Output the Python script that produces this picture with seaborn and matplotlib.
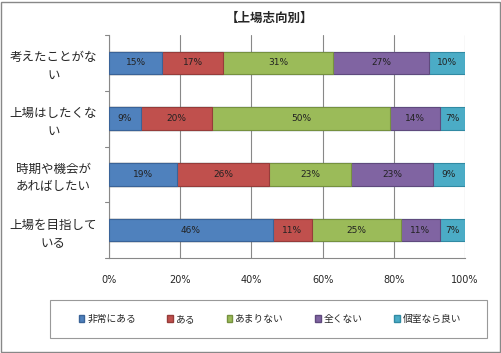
import matplotlib
matplotlib.use("Agg")
import matplotlib.pyplot as plt
import seaborn as sns
import numpy as np
import pandas as pd
from matplotlib.patches import Rectangle

sns.set_style("white")
plt.rcParams['font.family'] = ['Noto Sans CJK JP', 'DejaVu Sans']

categories = ["考えたことがな\nい", "上場はしたくな\nい", "時期や機会が\nあればしたい", "上場を目指して\nいる"]
series_names = ["非常にある", "ある", "あまりない", "全くない", "個室なら良い"]
v_very = [15, 9, 19, 46]
v_some = [17, 20, 26, 11]
v_little = [31, 50, 23, 25]
v_none = [27, 14, 23, 11]
v_private = [10, 7, 9, 7]
colors = ["#4F81BD", "#C0504D", "#9BBB59", "#8064A2", "#4BACC6"]
edges = ["#3A6398", "#963C3A", "#76913F", "#5F4A7D", "#318AA3"]
xticks = [0, 20, 40, 60, 80, 100]
xticklabels = ["0%", "20%", "40%", "60%", "80%", "100%"]

series = [v_very, v_some, v_little, v_none, v_private]
vals = np.array(series, dtype=float)
totals = vals.sum(axis=0)
pct = vals / totals * 100
cum = np.cumsum(pct, axis=0)

fig = plt.figure(figsize=(5.01, 3.53), dpi=100)
ax = fig.add_axes([109/501, 1-258/353, (465-109)/501, (258-35)/353])

for i in range(len(series) - 1, -1, -1):
    df = pd.DataFrame({"cat": categories, "val": cum[i]})
    sns.barplot(data=df, x="val", y="cat", orient="h", color=colors[i],
                saturation=1, width=0.4, edgecolor=edges[i], linewidth=0.8, ax=ax,
                label=series_names[i], zorder=3)

for i in range(len(series)):
    starts = cum[i] - pct[i]
    for j in range(len(categories)):
        ax.text(starts[j] + pct[i][j] / 2, j, f"{series[i][j]}%", ha="center",
                va="center", fontsize=6.5, color="#222222", zorder=5,
                family=['DejaVu Sans'])

ax.set_xlim(0, 100)
ax.set_ylim(3.5, -0.5)
ax.set_xticks(xticks)
ax.set_xticklabels(xticklabels, fontsize=7, family=['DejaVu Sans'])
ax.set_yticks([0, 1, 2, 3])
ax.set_yticklabels(categories, fontsize=9, ha="center", linespacing=1.45)
ax.tick_params(axis="y", length=0, pad=40)
ax.tick_params(axis="x", length=4, color="#888888", direction="out", pad=8)
ax.set_xlabel("")
ax.set_ylabel("")
for b in [-0.5, 0.5, 1.5, 2.5, 3.5]:
    ax.plot([-0.012, 0], [b, b], transform=ax.get_yaxis_transform(), color="#888888",
            lw=0.8, clip_on=False)
ax.grid(axis="x", color="#888888", lw=0.8, zorder=0)
ax.set_axisbelow(True)
for s in ["top", "right"]:
    ax.spines[s].set_visible(False)
ax.spines["left"].set_color("#888888")
ax.spines["bottom"].set_color("#888888")
ax.spines["left"].set_linewidth(0.8)
ax.spines["bottom"].set_linewidth(0.8)

leg = ax.get_legend()
if leg is not None:
    leg.remove()
handles = [Rectangle((0, 0), 1, 1, facecolor=colors[i], edgecolor=edges[i]) for i in range(5)]
fig.legend(handles, series_names, loc="center", bbox_to_anchor=(270/501, 1-319/353),
           ncol=5, fontsize=7, frameon=False,
           handlelength=0.6, handleheight=0.6, handletextpad=0.3, columnspacing=3.2)
fig.add_artist(Rectangle((50/501, 1-338/353), 437/501, 38/353, transform=fig.transFigure,
                         fill=False, edgecolor="#999999", lw=0.8))

fig.text(270/501, 1-18/353, "【上場志向別】", ha="center", va="center",
         fontsize=9, fontweight="bold")

fig.add_artist(Rectangle((1/501, 1/353), 499/501, 350/353, transform=fig.transFigure,
                         fill=False, edgecolor="#888888", lw=1))

fig.savefig("out.png", dpi=100)
